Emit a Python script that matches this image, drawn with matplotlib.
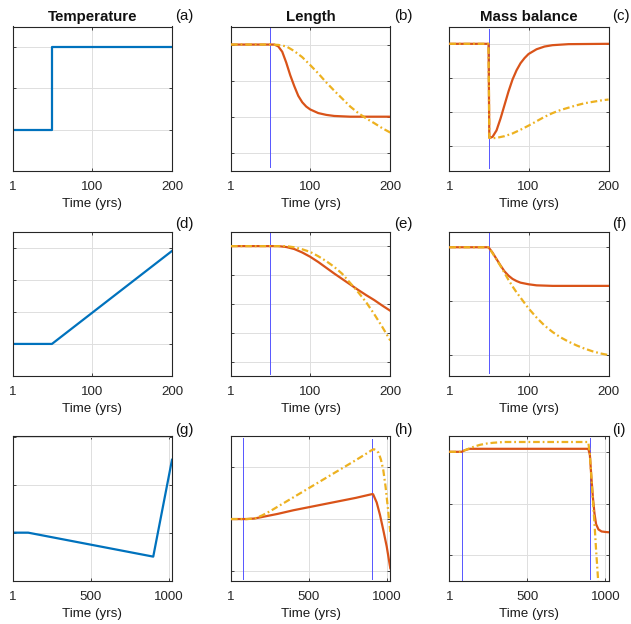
import matplotlib
matplotlib.use("Agg")
import matplotlib.pyplot as plt

# --------------------------
# DATA
# --------------------------
# top row: step in temperature at year 50
temp_a_t = [1, 50, 50, 200]
temp_a = [0, 0, 2, 2]

len_b_t = [1, 50, 55, 60, 65, 70, 75, 80, 85, 90, 95, 100, 110, 120, 130, 150, 200]
len_b_1 = [3, 3, 3.0, 2.95, 2.8, 2.5, 2.15, 1.85, 1.58, 1.4, 1.28, 1.2, 1.1, 1.05, 1.02, 1.0, 1.0]
len_b2_t = [1, 50, 60, 70, 80, 90, 100, 110, 120, 130, 140, 150, 160, 170, 180, 190, 200]
len_b_2 = [3, 3, 2.99, 2.95, 2.82, 2.65, 2.43, 2.2, 1.95, 1.72, 1.5, 1.28, 1.1, 0.95, 0.82, 0.68, 0.56]

mb_c1_t = [1, 50, 51, 52, 55, 60, 65, 70, 75, 80, 85, 90, 95, 100, 110, 120, 130, 150, 200]
mb_c_1 = [3, 3, 0.23, 0.23, 0.26, 0.45, 0.8, 1.2, 1.6, 1.95, 2.22, 2.43, 2.58, 2.7, 2.84, 2.92, 2.96, 2.99, 3.0]
mb_c2_t = [1, 50, 51, 55, 60, 70, 80, 90, 100, 110, 120, 130, 140, 150, 160, 170, 180, 190, 200]
mb_c_2 = [3, 3, 0.23, 0.22, 0.23, 0.28, 0.36, 0.47, 0.59, 0.72, 0.85, 0.96, 1.05, 1.12, 1.19, 1.25, 1.29, 1.33, 1.36]

# middle row: linear warming from year 50
temp_d_t = [1, 50, 200]
temp_d = [0, 0, 2.9]

len_e_t = [1, 50, 60, 70, 80, 90, 100, 110, 120, 130, 140, 150, 160, 170, 180, 190, 200]
len_e_1 = [4, 4, 4.0, 3.97, 3.9, 3.78, 3.63, 3.45, 3.25, 3.05, 2.86, 2.67, 2.48, 2.3, 2.13, 1.94, 1.76]
len_e_2 = [4, 4, 4.0, 4.0, 3.96, 3.89, 3.8, 3.65, 3.48, 3.28, 3.04, 2.72, 2.4, 2.05, 1.64, 1.2, 0.73]

mb_f_t = [1, 50, 55, 60, 65, 70, 75, 80, 85, 90, 100, 110, 120, 130, 140, 150, 160, 170, 180, 190, 200]
mb_f_1 = [2, 2, 1.9, 1.78, 1.66, 1.55, 1.47, 1.41, 1.37, 1.34, 1.31, 1.29, 1.285, 1.28, 1.28, 1.28,
          1.28, 1.28, 1.28, 1.28, 1.28]
mb_f_2 = [2, 2, 1.89, 1.77, 1.65, 1.52, 1.39, 1.27, 1.16, 1.06, 0.86, 0.69, 0.54, 0.42, 0.32, 0.24,
          0.17, 0.11, 0.06, 0.02, -0.01]

# bottom row: slow cooling then fast warming
temp_g_t = [1, 100, 900, 1020]
temp_g = [0, 0, -0.5, 1.52]

len_h1_t = [1, 80, 100, 150, 200, 300, 400, 500, 600, 700, 800, 900, 910, 933, 954, 975, 997, 1020]
len_h_1 = [0, 0, 0, 0.01, 0.04, 0.1, 0.17, 0.23, 0.29, 0.35, 0.41, 0.48, 0.48, 0.32, 0.08, -0.21,
           -0.53, -0.95]
len_h2_t = [1, 100, 130, 160, 200, 250, 300, 400, 500, 600, 700, 800, 880, 900, 915, 930, 945,
            960, 975, 990, 1005, 1020]
len_h_2 = [0, 0, 0.005, 0.02, 0.07, 0.15, 0.24, 0.42, 0.6, 0.78, 0.96, 1.14, 1.29, 1.33, 1.35,
           1.33, 1.28, 1.15, 0.95, 0.62, 0.2, -0.25]

mb_i1_t = [1, 80, 100, 120, 133, 150, 890, 900, 910, 920, 930, 940, 955, 975, 1000, 1020]
mb_i_1 = [0, 0, 0.03, 0.05, 0.058, 0.058, 0.058, -0.05, -0.5, -0.9, -1.2, -1.4, -1.5, -1.54,
          -1.55, -1.555]
mb_i2_t = [1, 80, 100, 133, 160, 197, 240, 282, 350, 890, 900, 910, 920, 930, 940, 950, 960]
mb_i_2 = [0, 0, 0.03, 0.07, 0.1, 0.135, 0.16, 0.175, 0.19, 0.19, -0.05, -0.5, -0.95, -1.4, -1.9,
          -2.35, -2.8]

# vertical marker lines (x, ymin, ymax)
vlines_b = [(50, -0.39, 3.5)]
vlines_c = [(50, -0.66, 3.44)]
vlines_e = [(50, -0.44, 4.44)]
vlines_f = [(50, -0.34, 2.29)]
vlines_h = [(80, -1.15, 1.57), (900, -1.15, 1.55)]
vlines_i = [(80, -2.49, 0.23), (900, -2.46, 0.26)]

titles = ["Temperature", "Length", "Mass balance"]
panel_labels = ["(a)", "(b)", "(c)", "(d)", "(e)", "(f)", "(g)", "(h)", "(i)"]
short_ticks = [1, 100, 200]
long_ticks = [1, 500, 1000]

# --------------------------
# STYLE
# --------------------------
plt.rcParams["font.family"] = ["Liberation Sans", "DejaVu Sans"]
BLUE = "#0072BD"
ORANGE = "#D95319"
YELLOW = "#EDB120"
AXCOL = "#262626"
GRIDCOL = "#dedede"
DASHDOT = (0, (3, 1.3, 0.8, 1.3))

W, H = 631, 624
fig = plt.figure(figsize=(W / 100, H / 100), dpi=100)

lefts = [12.7, 231, 449.3]
tops = [26.5, 231.7, 436.3]
aw, ah = 159.3, 144.3


def make_ax(row, col):
    ax = fig.add_axes([lefts[col] / W, 1 - (tops[row] + ah) / H, aw / W, ah / H])
    for s in ax.spines.values():
        s.set_color(AXCOL)
        s.set_linewidth(0.8)
    ax.tick_params(direction="in", length=2.5, width=0.6, colors=AXCOL,
                   top=True, right=True, labelsize=9.6, pad=7.5)
    ax.tick_params(axis="y", labelleft=False)
    ax.grid(True, color=GRIDCOL, linewidth=0.7)
    ax.set_axisbelow(True)
    ax.set_xlabel("Time (yrs)", fontsize=9.6, labelpad=3.5, color="#1a1a1a")
    return ax


def draw_vlines(ax, lines):
    for x, y0, y1 in lines:
        ax.plot([x, x], [y0, y1], color="#5555ff", lw=0.7, zorder=2)


def pair(ax, t1, v1, t2, v2):
    ax.plot(t1, v1, color=ORANGE, lw=1.6, zorder=3)
    ax.plot(t2, v2, color=YELLOW, lw=1.6, linestyle=DASHDOT, zorder=4)


axes = [[make_ax(r, c) for c in range(3)] for r in range(3)]

# row 1
ax = axes[0][0]
ax.plot(temp_a_t, temp_a, color=BLUE, lw=1.6)
ax.set_ylim(-1, 2.5); ax.set_yticks([0, 1, 2])
ax = axes[0][1]
draw_vlines(ax, vlines_b)
pair(ax, len_b_t, len_b_1, len_b2_t, len_b_2)
ax.set_ylim(-0.5, 3.5); ax.set_yticks([0, 1, 2, 3])
ax = axes[0][2]
draw_vlines(ax, vlines_c)
pair(ax, mb_c1_t, mb_c_1, mb_c2_t, mb_c_2)
ax.set_ylim(-0.74, 3.51); ax.set_yticks([0, 1, 2, 3])

# row 2
ax = axes[1][0]
ax.plot(temp_d_t, temp_d, color=BLUE, lw=1.6)
ax.set_ylim(-1, 3.5); ax.set_yticks([0, 1, 2, 3])
ax = axes[1][1]
draw_vlines(ax, vlines_e)
pair(ax, len_e_t, len_e_1, len_e_t, len_e_2)
ax.set_ylim(-0.5, 4.5); ax.set_yticks([0, 1, 2, 3, 4])
ax = axes[1][2]
draw_vlines(ax, vlines_f)
pair(ax, mb_f_t, mb_f_1, mb_f_t, mb_f_2)
ax.set_ylim(-0.4, 2.29); ax.set_yticks([0, 1, 2])

# row 3
ax = axes[2][0]
ax.plot(temp_g_t, temp_g, color=BLUE, lw=1.6)
ax.set_ylim(-1, 2.01); ax.set_yticks([0, 1, 2])
ax = axes[2][1]
draw_vlines(ax, vlines_h)
pair(ax, len_h1_t, len_h_1, len_h2_t, len_h_2)
ax.set_ylim(-1.19, 1.6); ax.set_yticks([-1, 0, 1])
ax = axes[2][2]
draw_vlines(ax, vlines_i)
pair(ax, mb_i1_t, mb_i_1, mb_i2_t, mb_i_2)
ax.set_ylim(-2.49, 0.3); ax.set_yticks([-2, -1, 0])

for r in range(3):
    for c in range(3):
        ax = axes[r][c]
        if r < 2:
            ax.set_xlim(1, 200); ax.set_xticks(short_ticks)
        else:
            ax.set_xlim(1, 1020); ax.set_xticks(long_ticks)

for c, t in enumerate(titles):
    axes[0][c].set_title(t, fontsize=10.8, fontweight="bold", pad=4, color="#111111")

# panel letters sit just right of each axes' top corner
label_y = [16, 224, 430]
for i, lab in enumerate(panel_labels):
    r, c = divmod(i, 3)
    fig.text((lefts[c] + aw + 3.5) / W, 1 - label_y[r] / H, lab, fontsize=10.8,
             ha="left", va="center", color="#111111")

fig.savefig("out.png", dpi=100)
